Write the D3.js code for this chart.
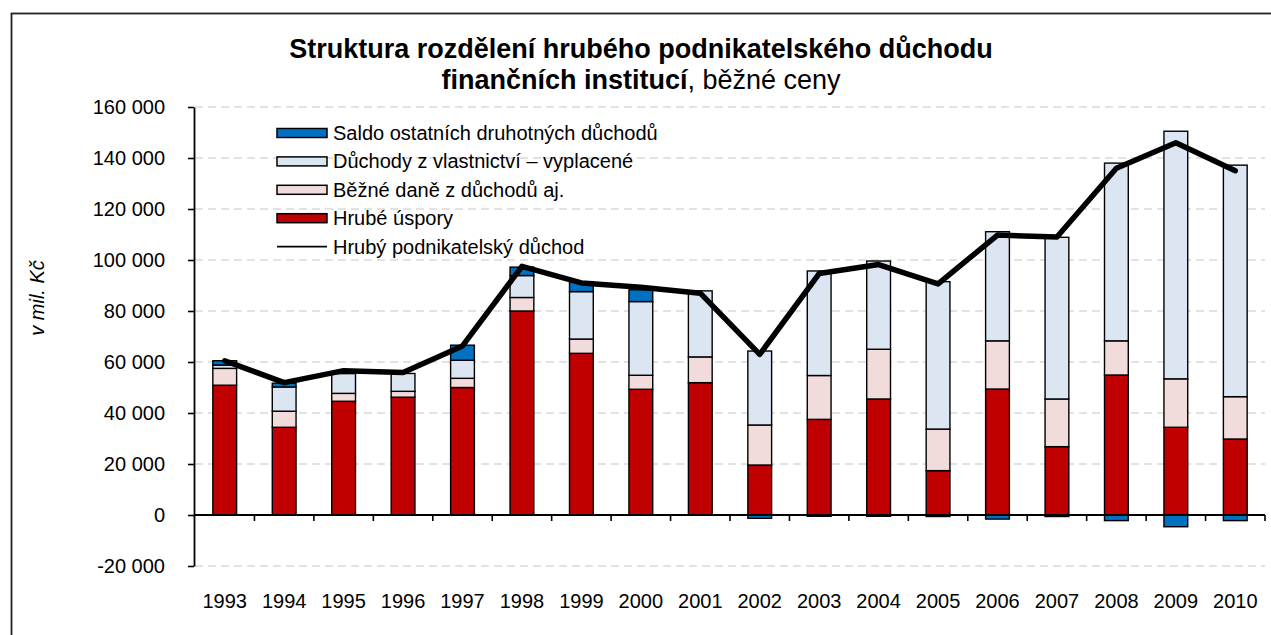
<!DOCTYPE html>
<html lang="cs">
<head>
<meta charset="utf-8">
<script src="https://cdn.jsdelivr.net/npm/d3@7"></script>
<style>
  html, body { margin: 0; padding: 0; background: #ffffff; }
  svg { display: block; font-family: "Liberation Sans", Arial, sans-serif; }
</style>
</head>
<body>
<svg id="chart" width="1271" height="635"></svg>
<script>
// Roky a složky (mil. Kč)
const years = ["1993","1994","1995","1996","1997","1998","1999","2000","2001",
               "2002","2003","2004","2005","2006","2007","2008","2009","2010"];

const hrubeUspory = [50900, 34400, 44600, 46200, 50000, 80000, 63400, 49300, 51900,
                     19600, 37500, 45500, 17400, 49400, 26800, 54900, 34400, 29800];
const bezneDane   = [6600, 6300, 3100, 2300, 3600, 5300, 5600, 5500, 10100,
                     15700, 17200, 19500, 16300, 18900, 18700, 13400, 19000, 16600];
const duchodyVlastnictvi = [1300, 9500, 7800, 7000, 7100, 8600, 18600, 28900, 25900,
                     29000, 41000, 34600, 57800, 42800, 63400, 69700, 97100, 90800];
const saldoDruhotnych = [1700, 1500, 500, 0, 5900, 3300, 3900, 4600, 0,
                     -1300, -500, -500, -600, -1600, -600, -2200, -4600, -2200];
const hrubyPodnikatelskyDuchod = [60500, 51900, 56600, 55900, 66300, 97500, 91000, 89300, 87000,
                     63000, 94700, 98200, 90600, 109800, 109000, 136000, 146000, 135000];

const yTicks = [-20000, 0, 20000, 40000, 60000, 80000, 100000, 120000, 140000, 160000];

const seriesNames = [
  "Saldo ostatních druhotných důchodů",
  "Důchody z vlastnictví – vyplacené",
  "Běžné daně z důchodů aj.",
  "Hrubé úspory",
  "Hrubý podnikatelský důchod"
];
const titleLine1 = "Struktura rozdělení hrubého podnikatelského důchodu";
const titleLine2Bold = "finančních institucí";
const titleLine2Rest = ", běžné ceny";
const yAxisTitle = "v mil. Kč";

const colors = {
  saldo: "#0070c0",
  duchody: "#dce6f2",
  dane: "#f2dcdb",
  uspory: "#c00000"
};

const svg = d3.select("#chart");
const W = 1271, H = 635;
const plot = { left: 195, right: 1265, top: 107, bottom: 566 };

const locale = d3.formatLocale({ decimal: ",", thousands: "\u00a0", grouping: [3], currency: ["", ""], minus: "-" });
const fmt = locale.format(",d");

// Rámeček grafu
svg.append("rect")
  .attr("x", 11.5).attr("y", 13.5)
  .attr("width", W).attr("height", H)
  .attr("fill", "#ffffff")
  .attr("stroke", "#222").attr("stroke-width", 1.8);

const x = d3.scaleBand()
  .domain(years)
  .range([plot.left, plot.right])
  .paddingInner(0.6)
  .paddingOuter(0.3);

const y = d3.scaleLinear()
  .domain([-20000, 160000])
  .range([plot.bottom, plot.top]);

// Vodorovná mřížka
svg.append("g")
  .selectAll("line")
  .data(yTicks.filter(v => v !== 0))
  .join("line")
  .attr("x1", plot.left).attr("x2", plot.right)
  .attr("y1", d => y(d)).attr("y2", d => y(d))
  .attr("stroke", "#d9d9d9")
  .attr("stroke-width", 1.6)
  .attr("stroke-dasharray", "8,5");

// Skládané sloupce
const rows = years.map((yr, i) => {
  const segs = [];
  let base = 0;
  [["uspory", hrubeUspory[i]], ["dane", bezneDane[i]], ["duchody", duchodyVlastnictvi[i]], ["saldo", saldoDruhotnych[i]]]
    .forEach(([key, v]) => {
      if (v >= 0) {
        segs.push({ key, y0: base, y1: base + v });
        base += v;
      } else {
        segs.push({ key, y0: v, y1: 0 });
      }
    });
  return { year: yr, segs };
});

svg.append("g")
  .selectAll("g")
  .data(rows)
  .join("g")
  .attr("transform", d => `translate(${x(d.year)},0)`)
  .selectAll("rect")
  .data(d => d.segs.filter(s => s.y1 !== s.y0))
  .join("rect")
  .attr("x", 0)
  .attr("width", x.bandwidth())
  .attr("y", s => y(s.y1))
  .attr("height", s => y(s.y0) - y(s.y1))
  .attr("fill", s => colors[s.key])
  .attr("stroke", "#000")
  .attr("stroke-width", 1.4);

// Osa Y
const yAxis = svg.append("g")
  .attr("transform", `translate(${plot.left - 1},0)`)
  .call(d3.axisLeft(y).tickValues(yTicks).tickFormat(fmt).tickSize(6).tickSizeOuter(0).tickPadding(23));
yAxis.select(".domain").attr("stroke", "#000").attr("stroke-width", 1.8);
yAxis.selectAll(".tick line").attr("stroke", "#000").attr("stroke-width", 1.6);
yAxis.selectAll(".tick text").attr("font-size", 20).attr("fill", "#000")
  .attr("font-family", "'Liberation Sans', Arial, sans-serif");

// Osa X na nulové hodnotě s dělícími značkami mezi roky
const boundaries = d3.range(years.length + 1).map(i => plot.left + i * x.step());
const xAxisG = svg.append("g");
xAxisG.append("line")
  .attr("x1", plot.left - 1).attr("x2", plot.right)
  .attr("y1", y(0)).attr("y2", y(0))
  .attr("stroke", "#000").attr("stroke-width", 2);
xAxisG.selectAll("line.sep")
  .data(boundaries.slice(1))
  .join("line")
  .attr("class", "sep")
  .attr("x1", d => d).attr("x2", d => d)
  .attr("y1", y(0)).attr("y2", y(0) + 6)
  .attr("stroke", "#000").attr("stroke-width", 1.6);

// Popisky let pod grafem
const xLabels = svg.append("g")
  .attr("transform", `translate(0,${plot.bottom})`)
  .call(d3.axisBottom(x).tickSize(0).tickPadding(28));
xLabels.select(".domain").remove();
xLabels.selectAll(".tick text").attr("font-size", 20).attr("fill", "#000")
  .attr("font-family", "'Liberation Sans', Arial, sans-serif");

// Čára hrubého podnikatelského důchodu
const line = d3.line()
  .x((d, i) => x(years[i]) + x.bandwidth() / 2)
  .y(d => y(d));
svg.append("path")
  .datum(hrubyPodnikatelskyDuchod)
  .attr("d", line)
  .attr("fill", "none")
  .attr("stroke", "#000")
  .attr("stroke-width", 5.5)
  .attr("stroke-linejoin", "round")
  .attr("stroke-linecap", "round");

// Název
const title = svg.append("text")
  .attr("x", 641).attr("text-anchor", "middle")
  .attr("font-size", 27).attr("fill", "#000");
title.append("tspan").attr("x", 641).attr("y", 58).attr("font-weight", "bold").text(titleLine1);
const t2 = title.append("tspan").attr("x", 641).attr("y", 88.5);
t2.append("tspan").attr("font-weight", "bold").text(titleLine2Bold);
t2.append("tspan").attr("font-weight", "normal").text(titleLine2Rest);

// Popis osy Y
svg.append("text")
  .attr("transform", "translate(44,298) rotate(-90)")
  .attr("text-anchor", "middle")
  .attr("font-size", 20)
  .attr("font-style", "italic")
  .attr("fill", "#000")
  .text(yAxisTitle);

// Legenda
const legendItems = [
  { name: seriesNames[0], type: "rect", fill: colors.saldo },
  { name: seriesNames[1], type: "rect", fill: colors.duchody },
  { name: seriesNames[2], type: "rect", fill: colors.dane },
  { name: seriesNames[3], type: "rect", fill: colors.uspory },
  { name: seriesNames[4], type: "line" }
];
const legend = svg.append("g").attr("transform", "translate(277,133)");
const li = legend.selectAll("g")
  .data(legendItems)
  .join("g")
  .attr("transform", (d, i) => `translate(0,${i * 28.4})`);
li.filter(d => d.type === "rect").append("rect")
  .attr("x", 0).attr("y", -4.5).attr("width", 50).attr("height", 9)
  .attr("fill", d => d.fill).attr("stroke", "#000").attr("stroke-width", 1.5);
li.filter(d => d.type === "line").append("line")
  .attr("x1", 0).attr("x2", 50).attr("y1", 0).attr("y2", 0)
  .attr("stroke", "#000").attr("stroke-width", 1.6);
li.append("text")
  .attr("x", 56).attr("y", 0).attr("dy", "0.35em")
  .attr("font-size", 20).attr("fill", "#000")
  .text(d => d.name);
</script>
</body>
</html>
